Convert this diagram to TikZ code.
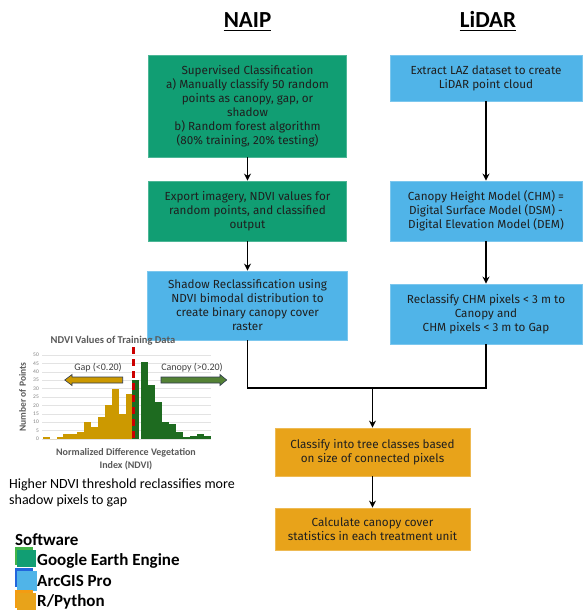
\documentclass[tikz,border=0pt]{standalone}
\usepackage{fontspec}
\setmainfont{Carlito}
\newfontfamily\boxfont{Fira Sans}
\usetikzlibrary{arrows.meta,positioning,calc}
\definecolor{geegreen}{RGB}{17,158,115}
\definecolor{geelight}{RGB}{67,181,73}
\definecolor{arcblue}{RGB}{80,180,232}
\definecolor{arcdark}{RGB}{34,102,221}
\definecolor{rorange}{RGB}{232,163,26}
\definecolor{rlight}{RGB}{243,156,18}
\definecolor{gapgold}{RGB}{204,153,0}
\definecolor{canopygreen}{RGB}{30,107,32}
\definecolor{arrowgreen}{RGB}{84,130,53}
\definecolor{axisgray}{RGB}{89,89,89}
\definecolor{outlinenavy}{RGB}{47,59,79}
\tikzset{
    stepbox/.style={draw=#1!75!white, line width=0.8pt, fill=#1, align=center,
        font=\boxfont\fontsize{11.7}{14}\selectfont, text=black!88, inner sep=2pt},
    flowarrow/.style={-{Stealth[length=7pt,width=7pt]}, line width=1.4pt},
    flowline/.style={line width=1.2pt},
    headtitle/.style={font=\fontsize{23}{26}\selectfont\bfseries, inner xsep=0pt},
    charttext/.style={font=\fontsize{10}{12.5}\selectfont\bfseries, text=axisgray, align=center},
    legendtext/.style={font=\fontsize{17}{20}\selectfont\bfseries, anchor=base west, inner xsep=0pt}
}

\begin{document}
\begin{tikzpicture}[x=1pt, y=-1pt]
\useasboundingbox (0,0) rectangle (582,612);
\node[headtitle, anchor=base] (naip) at (247.5,27.3) {NAIP};
\node[headtitle, anchor=base] (lidar) at (488,27.3) {LiDAR};
\draw[line width=1.8pt] ([yshift=-3.2pt]naip.base west) -- ([yshift=-3.2pt]naip.base east);
\draw[line width=1.8pt] ([yshift=-3.2pt]lidar.base west) -- ([yshift=-3.2pt]lidar.base east);

% NAIP column
\node[stepbox=geegreen, minimum width=198pt, minimum height=102pt] (supervised) at (247.5,106)
    {Supervised Classification\\a) Manually classify 50 random\\points as canopy, gap, or\\shadow\\b) Random forest algorithm\\(80\% training, 20\% testing)};
\node[stepbox=geegreen, minimum width=198pt, minimum height=60pt] (export) at (247.5,211)
    {Export imagery, NDVI values for\\random points, and classified\\output};
\node[stepbox=arcblue, minimum width=200pt, minimum height=69pt] (shadow) at (247.5,305.5)
    {Shadow Reclassification using\\NDVI bimodal distribution to\\create binary canopy cover\\raster};

% LiDAR column
\node[stepbox=arcblue, minimum width=192pt, minimum height=46pt] (laz) at (486,78)
    {Extract LAZ dataset to create\\LiDAR point cloud};
\node[stepbox=arcblue, minimum width=192pt, minimum height=60pt] (chm) at (486,211)
    {Canopy Height Model (CHM) =\\Digital Surface Model (DSM) -\\Digital Elevation Model (DEM)};
\node[stepbox=arcblue, minimum width=192pt, minimum height=60pt] (reclass) at (486,314)
    {Reclassify CHM pixels < 3 m to\\Canopy and\\CHM pixels < 3 m to Gap};

% merged steps
\node[stepbox=rorange, minimum width=195pt, minimum height=48pt] (classify) at (372.5,452)
    {Classify into tree classes based\\on size of connected pixels};
\node[stepbox=rorange, minimum width=195pt, minimum height=42pt] (stats) at (372.5,529)
    {Calculate canopy cover\\statistics in each treatment unit};
\coordinate (merge) at (372.5,388);

\draw[flowarrow] (supervised) -- (export);
\draw[flowarrow] (export) -- (shadow);
\draw[flowarrow] (laz) -- (chm);
\draw[flowarrow] (chm) -- (reclass);
\draw[flowline] (shadow.south) |- (merge) -| (reclass.south);
\draw[flowarrow] (merge) -- (classify);
\draw[flowarrow] (classify) -- (stats);

% NDVI histogram
\node[charttext, font=\fontsize{10.5}{12}\selectfont\bfseries] (histtitle) at (113,341) {NDVI Values of Training Data};
\node[charttext, font=\fontsize{9.5}{10}\selectfont\bfseries, rotate=90] (ylabel) at (22.5,397) {Number of Points};
\foreach \t in {0,5,...,50} {
    \draw[gray!22, line width=0.5pt] (42,{439-1.68*\t}) -- (211,{439-1.68*\t});
    \node[anchor=east, font=\fontsize{5.5}{6}\selectfont, text=gray, inner sep=1pt] (tick\t) at (40,{439-1.68*\t}) {\t};
}
\foreach \v [count=\i from 0] in {1,0,1,3,3,4,10,7,13,20,30,15,27}
    \fill[gapgold] ({42.7+6.9*\i},439) rectangle ({42.7+6.9*(\i+1)},{439-1.68*\v});
\fill[canopygreen] (132.4,439) rectangle (139.3,{439-1.68*35});
\foreach \v [count=\i from 0] in {46,32,22,10,9,4,1,2,3,2}
    \fill[canopygreen] ({141+7*\i},439) rectangle ({148+7*\i},{439-1.68*\v});
\draw[red!80!black, line width=2.2pt, dash pattern=on 7pt off 5pt] (133.5,347) -- (133.5,439);
\filldraw[fill=gapgold, draw=outlinenavy, line width=0.6pt]
    (122.7,377) -- (72,377) -- (72,374.5) -- (64.7,380) -- (72,385.5) -- (72,383) -- (122.7,383) -- cycle;
\filldraw[fill=arrowgreen, draw=outlinenavy, line width=0.6pt]
    (161,377) -- (220,377) -- (220,374.5) -- (226.7,380) -- (220,385.5) -- (220,383) -- (161,383) -- cycle;
\node[font=\fontsize{10}{12}\selectfont, text=black!75] (gaplabel) at (98,368) {Gap (<0.20)};
\node[font=\fontsize{10}{12}\selectfont, text=black!75] (canopylabel) at (192,368) {Canopy (>0.20)};
\node[charttext] (xlabel) at (126,459) {Normalized Difference Vegetation\\Index (NDVI)};
\node[font=\fontsize{14}{16}\selectfont, align=left, anchor=north west, inner sep=0pt] (caption) at (9,479)
    {Higher NDVI threshold reclassifies more\\shadow pixels to gap};

% software legend
\node[legendtext] (software) at (15,545) {Software};
\fill[geelight] (15,547) rectangle (33,565);
\fill[geegreen] (16.7,549.5) rectangle (36,566.5);
\fill[arcdark] (15,568) rectangle (33,587);
\fill[arcblue] (16.7,571) rectangle (36.7,591);
\fill[rlight] (15,590) rectangle (33,608);
\fill[rorange] (16.7,593) rectangle (36,610);
\node[legendtext] (gee) at (37,565) {Google Earth Engine};
\node[legendtext] (arcgis) at (37,586) {ArcGIS Pro};
\node[legendtext] (rpython) at (37,606) {R/Python};
\end{tikzpicture}
\end{document}
